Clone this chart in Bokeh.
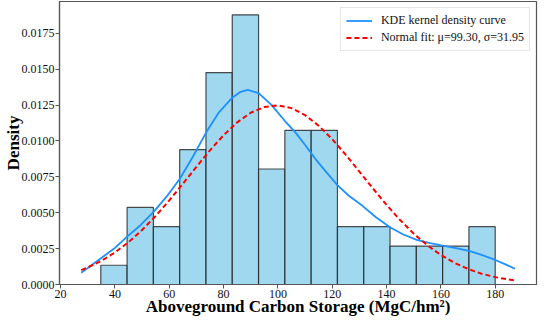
from bokeh.plotting import figure
from bokeh.models import (Range1d, FixedTicker, NumeralTickFormatter,
                          Legend, LegendItem, ColumnDataSource)
from bokeh.embed import file_html
from bokeh.resources import INLINE

# ---- data ----
bin_edges = [34.8, 44.48, 54.16, 63.84, 73.52, 83.2, 92.88, 102.56, 112.24,
             121.92, 131.6, 141.28, 150.96, 160.64, 170.32, 180.0]
density = [0.00134, 0.00537, 0.00403, 0.00940, 0.01477, 0.01879, 0.00805,
           0.01074, 0.01074, 0.00403, 0.00403, 0.00268, 0.00268, 0.00268,
           0.00403]

kde_x = [27.6, 35, 40, 44.5, 49.5, 54.4, 59, 63.9, 68.7, 73.5, 78.3, 83.2, 86,
         88.9, 92.9, 97.7, 102.6, 106.5, 110.1, 114, 117.5, 121.9, 126, 131,
         136, 141.4, 146, 151.1, 156, 160.7, 165.5, 170.4, 175, 180, 184, 187.3]
kde_y = [0.00082, 0.00185, 0.00255, 0.00334, 0.00415, 0.00509, 0.00612,
         0.00737, 0.00890, 0.01057, 0.01200, 0.01302, 0.01340, 0.01356,
         0.01333, 0.01250, 0.01139, 0.01058, 0.00970, 0.00870, 0.00790,
         0.00693, 0.00620, 0.00550, 0.00470, 0.00397, 0.00350, 0.00311,
         0.00289, 0.00271, 0.00254, 0.00234, 0.00206, 0.00171, 0.00138,
         0.00110]

norm_x = [27.6, 30, 35, 40, 45, 50, 55, 60, 65, 70, 75, 80, 85, 90, 95, 100,
          105, 110, 115, 120, 125, 130, 135, 140, 145, 150, 155, 160, 165,
          170, 175, 180, 185, 187.3]
norm_y = [0.001006, 0.001188, 0.001648, 0.002231, 0.002946, 0.003797,
          0.004775, 0.005860, 0.007017, 0.008200, 0.009350, 0.010404,
          0.011296, 0.011968, 0.012373, 0.012483, 0.012289, 0.011805,
          0.011066, 0.010122, 0.009035, 0.007869, 0.006688, 0.005547,
          0.004489, 0.003545, 0.002732, 0.002054, 0.001507, 0.001079,
          0.000754, 0.000514, 0.000342, 0.000281]

x_ticks = [20, 40, 60, 80, 100, 120, 140, 160, 180]
y_ticks = [0.0, 0.0025, 0.005, 0.0075, 0.01, 0.0125, 0.015, 0.0175]

x_label = "Aboveground Carbon Storage (MgC/hm²)"
y_label = "Density"
kde_label = "KDE kernel density curve"
norm_label = "Normal fit: μ=99.30, σ=31.95"

FONT = "Liberation Serif"
SPINE = "#555555"

p = figure(width=542, height=320, output_backend="svg", toolbar_location=None,
           x_range=Range1d(19.6, 195.2), y_range=Range1d(0, 0.01972),
           min_border_left=53, min_border_right=6, min_border_top=1,
           min_border_bottom=36)
p.background_fill_color = "white"
p.border_fill_color = "white"
p.outline_line_color = SPINE
p.outline_line_width = 1.2
p.grid.visible = False

src = ColumnDataSource(dict(left=bin_edges[:-1], right=bin_edges[1:],
                            top=density, bottom=[0] * len(density)))
p.quad(left="left", right="right", top="top", bottom="bottom", source=src,
       fill_color="#87CEEB", fill_alpha=0.8, line_color="#222222",
       line_alpha=0.8, line_width=1.2)

r_kde = p.line(kde_x, kde_y, line_color="#1E90FF", line_width=1.8)
r_norm = p.line(norm_x, norm_y, line_color="red", line_width=2,
                line_dash="5 3")

for ax in (p.xaxis[0], p.yaxis[0]):
    ax.axis_line_color = SPINE
    ax.axis_line_width = 1.2
    ax.major_tick_line_color = SPINE
    ax.major_tick_out = 4
    ax.major_tick_in = 0
    ax.minor_tick_line_color = None
    ax.major_label_text_font = FONT
    ax.major_label_text_font_size = "12px"
    ax.major_label_text_color = "#111111"
    ax.major_label_standoff = 1
    ax.axis_label_text_font = FONT
    ax.axis_label_text_font_size = "17px"
    ax.axis_label_text_font_style = "bold"
    ax.axis_label_text_color = "black"

p.xaxis.axis_label = x_label
p.yaxis.axis_label = y_label
p.xaxis.axis_label_standoff = -4
p.yaxis.axis_label_standoff = -4

p.xaxis.ticker = FixedTicker(ticks=x_ticks)
p.yaxis.ticker = FixedTicker(ticks=y_ticks)
p.yaxis.formatter = NumeralTickFormatter(format="0.0000")

legend = Legend(items=[LegendItem(label=kde_label, renderers=[r_kde]),
                       LegendItem(label=norm_label, renderers=[r_norm])],
                location="top_right")
legend.label_text_font = FONT
legend.label_text_font_size = "12px"
legend.label_text_color = "#111111"
legend.glyph_width = 26
legend.glyph_height = 15
legend.label_height = 15
legend.spacing = 2
legend.padding = 5
legend.margin = 6
legend.label_standoff = 9
legend.border_line_color = "#cccccc"
legend.border_line_width = 1
legend.background_fill_alpha = 0.8
p.add_layout(legend)

open("out.html", "w").write(file_html(p, INLINE))
